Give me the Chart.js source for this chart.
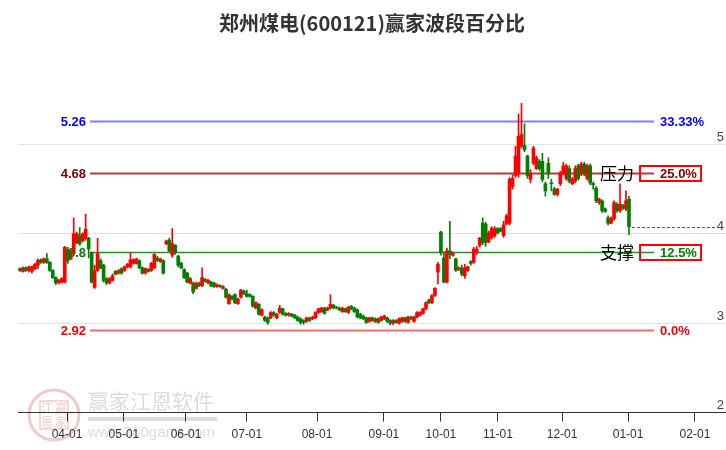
<!DOCTYPE html>
<html>
<head>
<meta charset="utf-8">
<script src="https://cdn.jsdelivr.net/npm/chart.js@4.4.0/dist/chart.umd.min.js"></script>
<style>
  html, body { margin: 0; padding: 0; background: #fff; }
  #wrap { width: 726px; height: 450px; }
</style>
</head>
<body>
<div id="wrap"><canvas id="wave-chart" width="726" height="450"></canvas></div>
<script>
// 郑州煤电 daily candles (one per trading day)

const opens = [
  3.61, 3.58, 3.62, 3.59, 3.58, 3.61, 3.65, 3.71, 3.68, 3.72,
  3.68, 3.59, 3.51, 3.45, 3.46, 3.46, 3.82, 3.72, 3.78, 3.90,
  3.98, 3.92, 3.95, 3.95, 3.79, 3.40, 3.59, 3.70, 3.65, 3.50,
  3.45, 3.48, 3.58, 3.56, 3.61, 3.59, 3.63, 3.63, 3.67, 3.67,
  3.70, 3.62, 3.56, 3.60, 3.59, 3.62, 3.73, 3.69, 3.70, 3.89,
  3.93, 3.76, 3.87, 3.75, 3.67, 3.60, 3.56, 3.45, 3.45, 3.39,
  3.45, 3.42, 3.49, 3.45, 3.46, 3.45, 3.41, 3.42, 3.39, 3.38,
  3.22, 3.30, 3.32, 3.22, 3.29, 3.36, 3.33, 3.32, 3.30, 3.17,
  3.21, 3.09, 3.07, 3.06, 3.06, 3.12, 3.06, 3.12, 3.16, 3.11,
  3.09, 3.10, 3.09, 3.07, 3.05, 3.03, 3.02, 3.06, 3.05, 3.06,
  3.12, 3.13, 3.17, 3.15, 3.17, 3.20, 3.18, 3.17, 3.13, 3.16,
  3.12, 3.19, 3.17, 3.15, 3.10, 3.08, 3.06, 3.02, 3.06, 3.02,
  3.05, 3.03, 3.05, 3.06, 3.03, 3.00, 3.03, 3.00, 3.02, 3.06,
  3.01, 3.07, 3.02, 3.07, 3.09, 3.11, 3.16, 3.26, 3.23, 3.31,
  3.57, 4.02, 3.73, 3.46, 3.81, 3.76, 3.72, 3.60, 3.62, 3.53,
  3.59, 3.69, 3.68, 3.79, 3.87, 4.12, 4.11, 3.91, 3.96, 3.98,
  4.06, 4.06, 3.98, 4.11, 4.12, 4.53, 4.65, 4.67, 4.98, 4.99,
  4.87, 4.61, 4.79, 4.73, 4.81, 4.81, 4.56, 4.79, 4.57, 4.50,
  4.44, 4.56, 4.68, 4.62, 4.73, 4.56, 4.59, 4.76, 4.67, 4.78,
  4.62, 4.76, 4.56, 4.51, 4.35, 4.37, 4.28, 4.18, 4.12, 4.17,
  4.33, 4.26, 4.31, 4.28, 4.39
];

const highs = [
  3.62, 3.63, 3.63, 3.64, 3.64, 3.67, 3.72, 3.72, 3.73, 3.78,
  3.69, 3.60, 3.52, 3.49, 3.51, 3.86, 3.85, 3.83, 4.18, 4.02,
  4.07, 4.01, 4.22, 3.96, 3.80, 3.65, 3.95, 3.72, 3.66, 3.51,
  3.51, 3.55, 3.59, 3.60, 3.62, 3.64, 3.67, 3.79, 3.72, 3.73,
  3.71, 3.63, 3.62, 3.61, 3.68, 3.78, 3.75, 3.73, 3.71, 3.93,
  3.95, 4.06, 3.88, 3.76, 3.68, 3.61, 3.57, 3.51, 3.46, 3.46,
  3.46, 3.62, 3.50, 3.49, 3.47, 3.46, 3.44, 3.43, 3.42, 3.39,
  3.33, 3.31, 3.33, 3.28, 3.38, 3.37, 3.37, 3.33, 3.31, 3.24,
  3.22, 3.16, 3.08, 3.07, 3.13, 3.13, 3.11, 3.20, 3.17, 3.12,
  3.12, 3.11, 3.10, 3.08, 3.06, 3.04, 3.07, 3.07, 3.08, 3.13,
  3.17, 3.18, 3.18, 3.18, 3.32, 3.21, 3.19, 3.18, 3.18, 3.17,
  3.19, 3.20, 3.18, 3.16, 3.11, 3.09, 3.07, 3.07, 3.07, 3.06,
  3.06, 3.08, 3.09, 3.07, 3.04, 3.04, 3.04, 3.06, 3.07, 3.07,
  3.08, 3.08, 3.08, 3.13, 3.13, 3.17, 3.24, 3.27, 3.32, 3.40,
  3.68, 4.03, 3.80, 3.84, 4.14, 3.80, 3.73, 3.63, 3.65, 3.66,
  3.64, 3.70, 3.85, 3.86, 3.96, 4.18, 4.13, 4.03, 4.08, 4.08,
  4.07, 4.07, 4.14, 4.22, 4.63, 4.66, 4.98, 5.34, 5.46, 5.23,
  4.88, 4.72, 4.98, 4.87, 4.83, 4.90, 4.58, 4.85, 4.61, 4.52,
  4.51, 4.70, 4.80, 4.78, 4.76, 4.63, 4.76, 4.78, 4.80, 4.80,
  4.78, 4.78, 4.58, 4.53, 4.40, 4.38, 4.29, 4.20, 4.19, 4.37,
  4.35, 4.56, 4.33, 4.48, 4.42
];

const lows = [
  3.58, 3.57, 3.58, 3.57, 3.56, 3.60, 3.61, 3.67, 3.67, 3.67,
  3.58, 3.50, 3.43, 3.44, 3.45, 3.45, 3.67, 3.71, 3.77, 3.89,
  3.87, 3.91, 3.93, 3.73, 3.45, 3.39, 3.58, 3.61, 3.46, 3.43,
  3.44, 3.47, 3.54, 3.55, 3.55, 3.58, 3.62, 3.62, 3.66, 3.66,
  3.61, 3.55, 3.55, 3.57, 3.58, 3.61, 3.69, 3.68, 3.55, 3.88,
  3.80, 3.74, 3.77, 3.63, 3.61, 3.50, 3.45, 3.44, 3.33, 3.38,
  3.41, 3.41, 3.46, 3.44, 3.41, 3.40, 3.40, 3.40, 3.38, 3.28,
  3.21, 3.26, 3.22, 3.21, 3.28, 3.32, 3.29, 3.29, 3.18, 3.16,
  3.09, 3.08, 3.02, 2.99, 3.05, 3.08, 3.05, 3.11, 3.09, 3.08,
  3.08, 3.07, 3.05, 3.02, 2.99, 2.99, 3.01, 3.02, 3.04, 3.05,
  3.11, 3.12, 3.10, 3.14, 3.16, 3.16, 3.16, 3.14, 3.12, 3.12,
  3.11, 3.15, 3.12, 3.06, 3.05, 3.04, 3.00, 3.01, 3.02, 3.01,
  3.00, 3.02, 3.04, 3.01, 2.98, 2.98, 3.00, 2.99, 3.01, 3.01,
  3.00, 3.04, 3.01, 3.06, 3.08, 3.10, 3.15, 3.22, 3.22, 3.30,
  3.44, 3.76, 3.45, 3.45, 3.72, 3.75, 3.58, 3.59, 3.53, 3.50,
  3.58, 3.65, 3.67, 3.77, 3.85, 3.88, 3.86, 3.90, 3.94, 3.96,
  4.00, 4.02, 3.96, 4.10, 4.10, 4.50, 4.63, 4.63, 4.96, 4.92,
  4.62, 4.57, 4.77, 4.72, 4.71, 4.58, 4.42, 4.62, 4.48, 4.43,
  4.42, 4.54, 4.66, 4.60, 4.57, 4.55, 4.57, 4.60, 4.65, 4.65,
  4.60, 4.55, 4.50, 4.35, 4.33, 4.24, 4.24, 4.10, 4.11, 4.15,
  4.24, 4.24, 4.27, 4.26, 3.99
];

const closes = [
  3.59, 3.62, 3.59, 3.63, 3.63, 3.66, 3.70, 3.68, 3.72, 3.68,
  3.59, 3.51, 3.45, 3.48, 3.50, 3.85, 3.70, 3.81, 4.00, 4.00,
  3.89, 4.00, 4.05, 3.83, 3.46, 3.59, 3.78, 3.62, 3.48, 3.45,
  3.50, 3.53, 3.55, 3.59, 3.56, 3.63, 3.66, 3.71, 3.71, 3.72,
  3.62, 3.56, 3.61, 3.58, 3.67, 3.77, 3.70, 3.72, 3.56, 3.92,
  3.81, 3.89, 3.79, 3.65, 3.62, 3.51, 3.46, 3.50, 3.35, 3.45,
  3.42, 3.51, 3.47, 3.48, 3.42, 3.41, 3.43, 3.41, 3.41, 3.29,
  3.32, 3.27, 3.23, 3.27, 3.37, 3.33, 3.30, 3.30, 3.19, 3.23,
  3.10, 3.15, 3.03, 3.01, 3.12, 3.09, 3.10, 3.17, 3.10, 3.09,
  3.11, 3.08, 3.06, 3.03, 3.01, 3.01, 3.06, 3.03, 3.07, 3.12,
  3.16, 3.17, 3.11, 3.17, 3.21, 3.17, 3.17, 3.15, 3.17, 3.13,
  3.18, 3.16, 3.13, 3.07, 3.06, 3.05, 3.01, 3.06, 3.03, 3.05,
  3.01, 3.07, 3.08, 3.02, 3.00, 3.03, 3.01, 3.05, 3.06, 3.02,
  3.07, 3.05, 3.07, 3.12, 3.12, 3.16, 3.23, 3.23, 3.31, 3.39,
  3.66, 3.79, 3.46, 3.81, 3.77, 3.78, 3.59, 3.62, 3.55, 3.62,
  3.63, 3.67, 3.83, 3.83, 3.95, 3.90, 3.90, 4.01, 4.06, 4.06,
  4.01, 4.03, 4.10, 4.20, 4.61, 4.62, 4.87, 5.09, 5.11, 4.94,
  4.65, 4.68, 4.96, 4.85, 4.73, 4.61, 4.48, 4.67, 4.56, 4.44,
  4.50, 4.68, 4.76, 4.76, 4.59, 4.61, 4.73, 4.62, 4.78, 4.67,
  4.76, 4.57, 4.55, 4.37, 4.39, 4.26, 4.25, 4.12, 4.17, 4.35,
  4.26, 4.33, 4.29, 4.37, 4.08
];

// month start ticks, in trading-day units
const monthLabels = ["04-01", "05-01", "06-01", "07-01", "08-01", "09-01", "10-01", "11-01", "12-01", "01-01", "02-01"];
const monthTicks = [15.75, 34.8, 55.6, 76.0, 99.5, 121.9, 141.0, 160.1, 181.6, 203.7, 226.1];
const priceTicks = [2, 3, 4, 5];

// wave levels
const levelValues = [5.26, 4.68, 3.8, 2.92];
const levelTexts = ["5.26", "4.68", "3.8", "2.92"];
const levelPcts = ["33.33%", "25.0%", "12.5%", "0.0%"];
const levelTags = ["", "压力", "支撑", ""];

const UP = "#ff0000";
const DOWN = "#008000";
const LEVEL_FROM = 23.45;
const LEVEL_TO = 212.4;
const levelColors = ["#0000ff", "#800000", "#008000", "#ff0000"];
const levelLineColors = ["#7f7fff", "#a84040", "#2e8b2e", "#ff6a6a"];
const levelLineWidths = [2, 2, 1.5, 2];

const candleColors = closes.map((c, i) => (c >= opens[i] ? UP : DOWN));
const idx = closes.map((c, i) => i);

const levelPlugin = {
  id: "levelPlugin",
  beforeDatasetsDraw(chart) {
    const { ctx, chartArea, scales: { x, y } } = chart;
    const x0 = x.getPixelForValue(LEVEL_FROM);
    const x1 = x.getPixelForValue(LEVEL_TO);
    ctx.save();
    levelValues.forEach((v, i) => {
      const py = Math.round(y.getPixelForValue(v)) + 0.5;
      ctx.strokeStyle = levelLineColors[i];
      ctx.lineWidth = levelLineWidths[i];
      ctx.beginPath();
      ctx.moveTo(x0, py);
      ctx.lineTo(x1, py);
      ctx.stroke();
    });
    // last close marker
    const last = closes.length - 1;
    const py = Math.round(y.getPixelForValue(closes[last])) + 0.5;
    ctx.setLineDash([3, 2]);
    ctx.strokeStyle = "#4a6a4a";
    ctx.lineWidth = 1;
    ctx.beginPath();
    ctx.moveTo(x.getPixelForValue(last) + 3, py);
    ctx.lineTo(chartArea.right - 6, py);
    ctx.stroke();
    ctx.restore();
  },
  afterDatasetsDraw(chart) {
    const { ctx, scales: { x, y } } = chart;
    const x0 = x.getPixelForValue(LEVEL_FROM);
    const x1 = x.getPixelForValue(LEVEL_TO);
    ctx.save();
    ctx.textBaseline = "middle";
    levelValues.forEach((v, i) => {
      const py = Math.round(y.getPixelForValue(v));
      ctx.fillStyle = levelColors[i];
      ctx.font = "bold 13px 'Liberation Sans', Arial, sans-serif";
      ctx.textAlign = "right";
      ctx.fillText(levelTexts[i], x0 - 4, py + 1);
      ctx.textAlign = "left";
      ctx.fillText(levelPcts[i], x1 + 6, py + 1);
      if (levelTags[i]) {
        ctx.strokeStyle = "#ff0000";
        ctx.lineWidth = 2;
        ctx.strokeRect(x1 - 14, py - 7, 61, 15);
        ctx.fillStyle = "#000";
        ctx.font = "17px 'Noto Sans CJK SC', sans-serif";
        ctx.textAlign = "center";
        ctx.fillText(levelTags[i], x1 - 37, py + 1);
      }
    });
    ctx.restore();
  }
};

const watermark = {
  id: "watermark",
  beforeDraw(chart) {
    const { ctx } = chart;
    ctx.save();
    ctx.globalAlpha = 0.3;
    ctx.strokeStyle = "#d05050";
    ctx.lineWidth = 3;
    ctx.beginPath();
    ctx.arc(54, 415, 25, 0, Math.PI * 2);
    ctx.stroke();
    ctx.lineWidth = 1.5;
    ctx.strokeRect(40, 401, 28, 28);
    ctx.fillStyle = "#d05050";
    ctx.font = "12px 'Noto Sans CJK SC', sans-serif";
    ctx.textAlign = "center";
    ctx.textBaseline = "middle";
    ctx.fillText("江", 47, 408);
    ctx.fillText("赢", 61, 408);
    ctx.fillText("恩", 47, 422);
    ctx.fillText("家", 61, 422);
    ctx.globalAlpha = 1;
    ctx.fillStyle = "#dcdcdc";
    ctx.textAlign = "left";
    ctx.textBaseline = "alphabetic";
    ctx.font = "21px 'Noto Sans CJK SC', sans-serif";
    ctx.fillText("赢家江恩软件", 88, 409);
    ctx.fillRect(88, 417, 129, 4);
    ctx.font = "15px 'Liberation Sans', Arial, sans-serif";
    ctx.fillText("www.360gann.com", 88, 437);
    ctx.restore();
  }
};

const ctx = document.getElementById("wave-chart");

new Chart(ctx, {
  type: "bar",
  data: {
    datasets: [{
      label: "body",
      data: idx.map((i) => ({ x: i, y: [opens[i], closes[i]] })),
      backgroundColor: candleColors,
      borderWidth: 0,
      barThickness: 3,
      minBarLength: 1,
      grouped: false,
    }, {
      label: "wick",
      data: idx.map((i) => ({ x: i, y: [lows[i], highs[i]] })),
      backgroundColor: candleColors,
      borderWidth: 0,
      barThickness: 1,
      grouped: false,
    }],
  },
  options: {
    responsive: false,
    animation: false,
    devicePixelRatio: 1,
    layout: {
      padding: { left: 18, right: 0, top: 0, bottom: 2 },
    },
    plugins: {
      legend: { display: false },
      tooltip: { enabled: false },
      title: {
        display: true,
        text: "郑州煤电(600121)赢家波段百分比",
        color: "#333",
        font: { family: "'Noto Sans CJK SC', sans-serif", size: 20, weight: "bold" },
        padding: { top: 11, bottom: 29 },
      },
    },
    scales: {
      x: {
        type: "linear",
        min: -0.67,
        max: 236.5,
        offset: false,
        afterBuildTicks: (scale) => {
          scale.ticks = monthTicks.map((v) => ({ value: v }));
        },
        border: { display: true, color: "#333", width: 1 },
        grid: {
          display: true,
          offset: false,
          drawOnChartArea: false,
          drawTicks: true,
          tickLength: 9,
          tickColor: "#333",
        },
        ticks: {
          autoSkip: false,
          maxRotation: 0,
          padding: 6,
          color: "#333",
          font: { family: "'Liberation Sans', Arial, sans-serif", size: 12 },
          callback: (v) => monthLabels[monthTicks.indexOf(v)],
        },
      },
      y: {
        type: "linear",
        position: "right",
        min: 2,
        max: 5.9,
        afterBuildTicks: (scale) => {
          scale.ticks = priceTicks.map((v) => ({ value: v }));
        },
        border: { display: false },
        grid: {
          color: "#e2e2e2",
          drawTicks: false,
        },
        ticks: {
          mirror: true,
          padding: -2,
          labelOffset: -7,
          color: "#444",
          font: { family: "'Liberation Sans', Arial, sans-serif", size: 13 },
        },
      },
    },
  },
  plugins: [watermark, levelPlugin],
});
</script>
</body>
</html>
